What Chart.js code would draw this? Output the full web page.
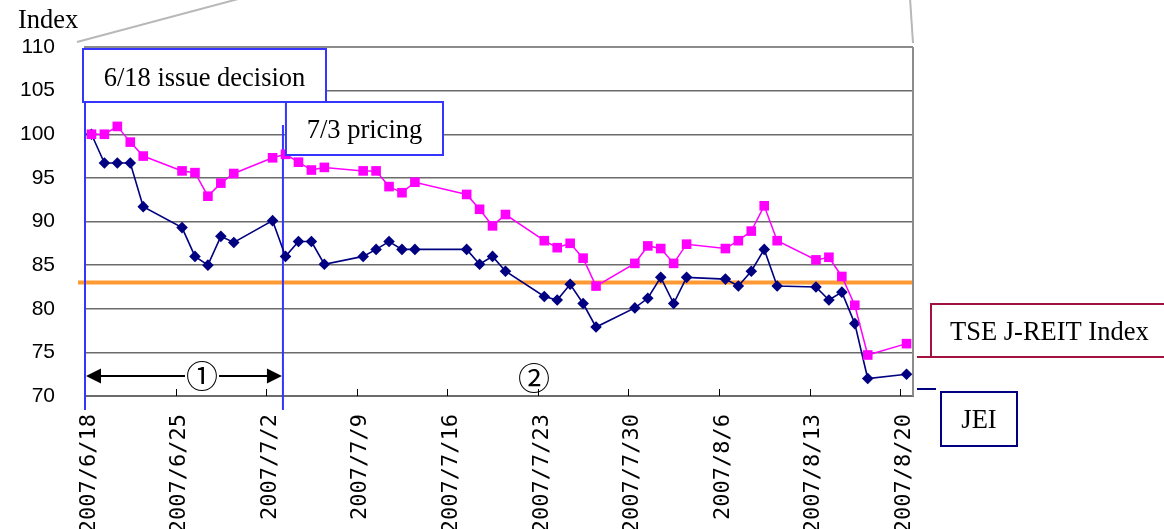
<!DOCTYPE html>
<html>
<head>
<meta charset="utf-8">
<script src="https://cdn.jsdelivr.net/npm/chart.js@4.4.1/dist/chart.umd.min.js"></script>
<style>
  html, body { margin: 0; padding: 0; background: #fff; }
  canvas { display: block; }
</style>
</head>
<body>
<canvas id="c" width="1164" height="529"></canvas>
<script>
// Trading days, 2007/6/18 - 2007/8/20
const tradeDates = [
  '2007-06-18','2007-06-19','2007-06-20','2007-06-21','2007-06-22',
  '2007-06-25','2007-06-26','2007-06-27','2007-06-28','2007-06-29',
  '2007-07-02','2007-07-03','2007-07-04','2007-07-05','2007-07-06',
  '2007-07-09','2007-07-10','2007-07-11','2007-07-12','2007-07-13',
  '2007-07-17','2007-07-18','2007-07-19','2007-07-20',
  '2007-07-23','2007-07-24','2007-07-25','2007-07-26','2007-07-27',
  '2007-07-30','2007-07-31','2007-08-01','2007-08-02','2007-08-03',
  '2007-08-06','2007-08-07','2007-08-08','2007-08-09','2007-08-10',
  '2007-08-13','2007-08-14','2007-08-15','2007-08-16','2007-08-17',
  '2007-08-20'
];

// TSE J-REIT Index, rebased to 100 on 6/18
const tseReit = [
  100.0, 100.0, 100.9, 99.1, 97.5,
  95.8, 95.6, 92.9, 94.4, 95.5,
  97.3, 97.7, 96.8, 95.9, 96.2,
  95.8, 95.8, 94.0, 93.3, 94.5,
  93.1, 91.4, 89.5, 90.8,
  87.8, 87.0, 87.5, 85.8, 82.6,
  85.2, 87.2, 86.9, 85.2, 87.4,
  86.9, 87.8, 88.9, 91.8, 87.8,
  85.6, 85.9, 83.7, 80.4, 74.7,
  76.0
];

// JEI, rebased to 100 on 6/18
const jei = [
  100.0, 96.7, 96.7, 96.7, 91.7,
  89.3, 86.0, 85.0, 88.3, 87.6,
  90.1, 86.0, 87.7, 87.7, 85.1,
  86.0, 86.8, 87.7, 86.8, 86.8,
  86.8, 85.1, 86.0, 84.3,
  81.4, 81.0, 82.8, 80.6, 77.9,
  80.1, 81.2, 83.6, 80.6, 83.6,
  83.4, 82.6, 84.3, 86.8, 82.6,
  82.5, 81.0, 81.9, 78.3, 72.0,
  72.5
];

const weekLabels = [
  '2007/6/18','2007/6/25','2007/7/2','2007/7/9','2007/7/16',
  '2007/7/23','2007/7/30','2007/8/6','2007/8/13','2007/8/20'
];

const yTickValues = [70, 75, 80, 85, 90, 95, 100, 105, 110];

const threshold = 83;          // horizontal reference level
const issueDay = 0;            // 6/18 issue decision
const pricingDay = 15.3;       // 7/3 pricing

const startUTC = Date.UTC(2007, 5, 18);
const dayOf = s => {
  const [y, m, d] = s.split('-').map(Number);
  return (Date.UTC(y, m - 1, d) - startUTC) / 86400000;
};
// each trading day sits in the middle of its one-day slot
const toPoints = vals => tradeDates.map((d, i) => ({ x: dayOf(d) + 0.5, y: vals[i] }));

const SERIF = '"Liberation Serif", "Times New Roman", serif';

function line(ctx, x1, y1, x2, y2) {
  ctx.beginPath(); ctx.moveTo(x1, y1); ctx.lineTo(x2, y2); ctx.stroke();
}

const overlay = {
  id: 'overlay',
  beforeDatasetsDraw(chart) {
    const { ctx, chartArea: a, scales: { x, y } } = chart;
    ctx.save();
    // reference level
    const ty = y.getPixelForValue(threshold);
    ctx.strokeStyle = '#ff9933';
    ctx.lineWidth = 4;
    line(ctx, a.left - 7, ty, a.right, ty);

    // plot frame: top and right
    ctx.strokeStyle = '#8c8c8c';
    ctx.lineWidth = 2;
    line(ctx, a.left, a.top, a.right, a.top);
    line(ctx, a.right, a.top, a.right, a.bottom);

    // inward tick marks on the date axis
    ctx.strokeStyle = '#000';
    ctx.lineWidth = 1;
    x.ticks.forEach(t => {
      if (t.value === 0) return;
      const px = Math.round(x.getPixelForValue(t.value)) + 0.5;
      line(ctx, px, a.bottom - 7, px, a.bottom);
    });

    // event markers
    ctx.strokeStyle = '#3535ff';
    ctx.lineWidth = 2;
    const x1 = x.getPixelForValue(issueDay);
    const x2 = x.getPixelForValue(pricingDay);
    line(ctx, x1, 100, x1, a.bottom + 14);
    line(ctx, x2, 125, x2, a.bottom + 14);
    ctx.restore();
  },
  afterDatasetsDraw(chart) {
    const { ctx, chartArea: a, scales: { x } } = chart;
    const x1 = x.getPixelForValue(issueDay);
    const x2 = x.getPixelForValue(pricingDay);
    ctx.save();

    // zoom guide lines above the plot
    ctx.strokeStyle = '#b8b8b8';
    ctx.lineWidth = 2;
    line(ctx, a.left - 8, a.top - 5, 242, -2);
    line(ctx, a.right, a.top - 4, a.right - 3, -2);

    // axis caption
    ctx.fillStyle = '#000';
    ctx.font = '26.5px ' + SERIF;
    ctx.textAlign = 'left';
    ctx.textBaseline = 'alphabetic';
    ctx.fillText('Index', 18, 28);

    // callout boxes
    const box = (l, t, r, b, color) => {
      ctx.fillStyle = '#fff';
      ctx.fillRect(l, t, r - l, b - t);
      ctx.strokeStyle = color;
      ctx.lineWidth = 2;
      ctx.strokeRect(l, t, r - l, b - t);
    };
    ctx.textAlign = 'center';
    box(x1 - 2, 49, 326, 102, '#3535ff');
    ctx.fillStyle = '#000';
    ctx.fillText('6/18 issue decision', (x1 - 2 + 326) / 2, 86);

    box(x2 + 3, 102, 443, 155, '#3535ff');
    ctx.fillStyle = '#000';
    ctx.fillText('7/3 pricing', (x2 + 3 + 443) / 2, 138);

    // period 1 arrow
    const ay = 376;
    ctx.strokeStyle = '#000';
    ctx.fillStyle = '#000';
    ctx.lineWidth = 2;
    const lt = x1 + 1, rt = x2 - 1;
    line(ctx, lt + 10, ay, rt - 10, ay);
    ctx.beginPath();
    ctx.moveTo(lt, ay); ctx.lineTo(lt + 15, ay - 7.5); ctx.lineTo(lt + 15, ay + 7.5); ctx.closePath(); ctx.fill();
    ctx.beginPath();
    ctx.moveTo(rt, ay); ctx.lineTo(rt - 15, ay - 7.5); ctx.lineTo(rt - 15, ay + 7.5); ctx.closePath(); ctx.fill();

    ctx.font = '32px "Noto Sans CJK JP"';
    ctx.textBaseline = 'middle';
    const c1 = 202;
    ctx.fillStyle = '#fff';
    ctx.fillRect(c1 - 17, ay - 16, 34, 32);
    ctx.fillStyle = '#000';
    ctx.fillText('\u2460', c1, ay);
    ctx.fillText('\u2461', 534, 378);

    // series labels
    ctx.textBaseline = 'alphabetic';
    ctx.font = '26.5px ' + SERIF;
    const red = '#a3123f';
    ctx.strokeStyle = red;
    ctx.lineWidth = 2;
    ctx.beginPath();
    ctx.moveTo(1170, 304); ctx.lineTo(931, 304); ctx.lineTo(931, 357);
    ctx.stroke();
    line(ctx, a.right + 4, 357, 1170, 357);
    ctx.fillStyle = '#000';
    ctx.textAlign = 'left';
    ctx.fillText('TSE J-REIT Index', 950, 340);

    ctx.strokeStyle = '#000080';
    line(ctx, a.right + 4, 389, 936, 389);
    box(941, 392, 1017, 446, '#000080');
    ctx.fillStyle = '#000';
    ctx.textAlign = 'center';
    ctx.fillText('JEI', 979, 428);

    ctx.restore();
  }
};

new Chart(document.getElementById('c'), {
  type: 'line',
  data: {
    datasets: [
      {
        label: 'TSE J-REIT Index',
        data: toPoints(tseReit),
        borderColor: '#ff00ff',
        backgroundColor: '#ff00ff',
        borderWidth: 1.5,
        pointStyle: 'rect',
        pointRadius: 6.8,
        pointBorderWidth: 0,
        pointHoverRadius: 6.8,
        tension: 0
      },
      {
        label: 'JEI',
        data: toPoints(jei),
        borderColor: '#000080',
        backgroundColor: '#000080',
        borderWidth: 1.6,
        pointStyle: 'rectRot',
        pointRadius: 5.8,
        pointBorderWidth: 0,
        pointHoverRadius: 5.8,
        tension: 0
      }
    ]
  },
  options: {
    responsive: false,
    animation: false,
    devicePixelRatio: 1,
    layout: { padding: { left: 0, top: 47, right: 251, bottom: 0 } },
    plugins: { legend: { display: false }, tooltip: { enabled: false } },
    scales: {
      x: {
        type: 'linear',
        min: 0,
        max: 64,
        afterBuildTicks: s => { s.ticks = weekLabels.map((_, i) => ({ value: i * 7 })); },
        afterFit: s => { s.height = 133; },
        grid: { display: false, drawTicks: false },
        border: { display: true, color: '#6b6b6b', width: 2 },
        ticks: {
          autoSkip: false,
          minRotation: 90,
          maxRotation: 90,
          padding: 18,
          labelOffset: 4,
          color: '#000',
          font: { family: '"DejaVu Sans Mono", monospace', size: 22 },
          callback: v => weekLabels[Math.round(v / 7)]
        }
      },
      y: {
        min: 70,
        max: 110,
        afterBuildTicks: s => { s.ticks = yTickValues.map(v => ({ value: v })); },
        afterFit: s => { s.width = 85; },
        grid: { color: '#6b6b6b', lineWidth: 1.5, drawTicks: false },
        border: { display: true, color: '#8c8c8c', width: 2 },
        ticks: {
          padding: 30,
          color: '#000',
          font: { family: '"Liberation Sans", Arial, sans-serif', size: 21 }
        }
      }
    }
  },
  plugins: [overlay]
});
</script>
</body>
</html>
